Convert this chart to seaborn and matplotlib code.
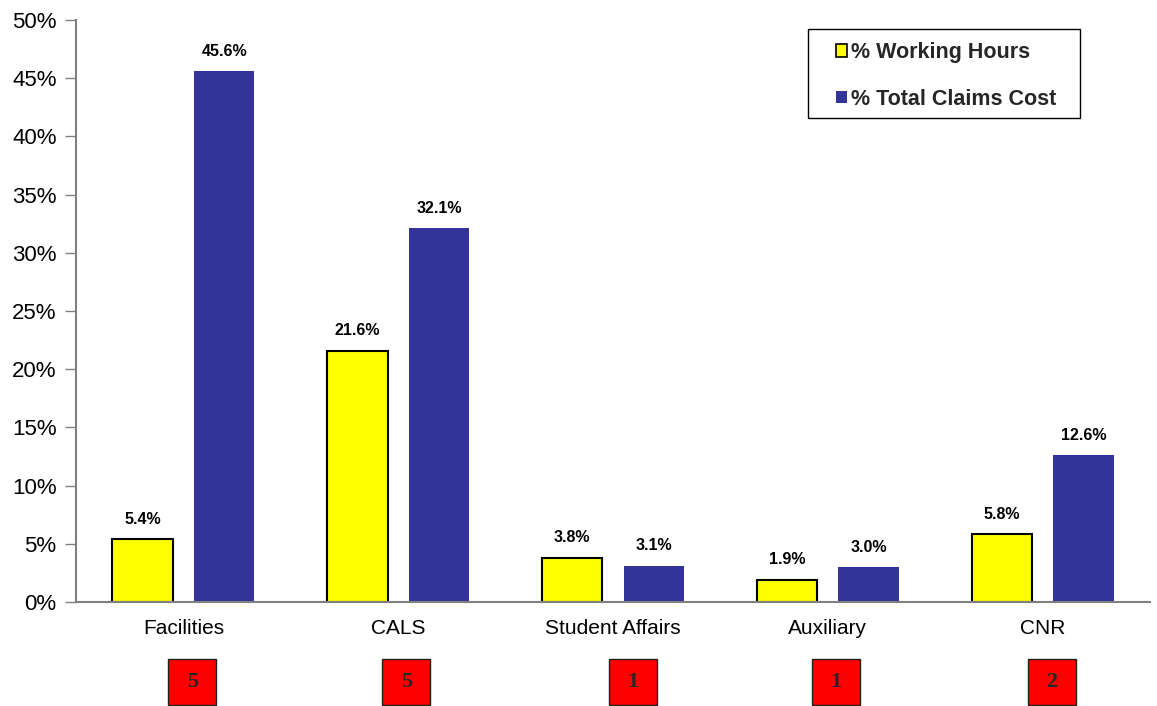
import matplotlib
matplotlib.use("Agg")
import matplotlib.pyplot as plt
import seaborn as sns
import pandas as pd
from matplotlib.transforms import blended_transform_factory
from matplotlib.patches import Rectangle

categories = ["Facilities", "CALS", "Student Affairs", "Auxiliary", "CNR"]
working_hours = [5.4, 21.6, 3.8, 1.9, 5.8]
claims_cost = [45.6, 32.1, 3.1, 3.0, 12.6]
series_names = ["% Working Hours", "% Total Claims Cost"]
box_numbers = ["5", "5", "1", "1", "2"]
y_ticks = [0, 5, 10, 15, 20, 25, 30, 35, 40, 45, 50]

df = pd.DataFrame({
    "Category": categories * 2,
    "Series": [series_names[0]] * len(categories) + [series_names[1]] * len(categories),
    "Value": working_hours + claims_cost,
})

sns.set_theme(style="white")
plt.rcParams["font.family"] = ["Liberation Sans", "DejaVu Sans"]

fig = plt.figure(figsize=(11.57, 7.06), dpi=100)
ax = fig.add_axes([0.0657, 0.1473, 0.9283, 0.8244])

palette = {series_names[0]: "#FFFF00", series_names[1]: "#333399"}
sns.barplot(data=df, x="Category", y="Value", hue="Series", order=categories,
            hue_order=series_names, palette=palette, width=0.76, gap=0.26,
            saturation=1, ax=ax, legend=False)

for i, container in enumerate(ax.containers):
    for p in container:
        if i == 0:
            p.set_edgecolor("black")
            p.set_linewidth(1.5)
        else:
            p.set_edgecolor("none")
    ax.bar_label(container, labels=[f"{v:.1f}%" for v in container.datavalues],
                 padding=9, fontsize=11.5, fontweight="bold", color="black")

ax.set_ylim(0, 50)
ax.set_xlim(-0.5, len(categories) - 0.5)
ax.set_yticks(y_ticks)
ax.set_yticklabels([f"{t}%" for t in y_ticks], fontsize=16, color="black")
ax.tick_params(axis="y", which="both", left=True, length=8, width=1, color="#808080", pad=6)
ax.tick_params(axis="x", bottom=False, labelsize=15, pad=6, labelcolor="black")
ax.set_xlabel("")
ax.set_ylabel("")
for side in ["top", "right"]:
    ax.spines[side].set_visible(False)
ax.spines["left"].set_color("#808080")
ax.spines["left"].set_linewidth(1.5)
ax.spines["bottom"].set_color("#808080")
ax.spines["bottom"].set_linewidth(1.5)
ax.grid(False)

# Legend frame (drawn separately) and legend entries
frame = Rectangle((0.6816, 0.8316), 0.2532, 0.1529, transform=ax.transAxes,
                  facecolor="white", edgecolor="black", linewidth=1.0, zorder=4,
                  clip_on=False)
ax.add_patch(frame)
handles = [Rectangle((0, 0), 1, 1, facecolor="#FFFF00", edgecolor="black", linewidth=1.2),
           Rectangle((0, 0), 1, 1, facecolor="#333399", edgecolor="none")]
leg = ax.legend(handles, series_names, loc="upper left", bbox_to_anchor=(0.7076, 0.9622),
                frameon=False,
                prop={"weight": "bold", "size": 15.5, "family": ["Liberation Sans"]},
                handlelength=0.52, handleheight=0.52, handletextpad=0.19,
                labelspacing=1.19, borderpad=0, borderaxespad=0)
leg.set_zorder(5)

# Red number boxes below categories
trans = blended_transform_factory(ax.transData, fig.transFigure)
box_offsets = [0.042, 0.037, 0.093, 0.037, 0.042]
box_w = 0.2235
box_bottom, box_h = 0.0014, 0.0652
for i, num in enumerate(box_numbers):
    xc = i + box_offsets[i]
    rect = Rectangle((xc - box_w / 2, box_bottom), box_w, box_h, transform=trans,
                     facecolor="#FF0000", edgecolor="#202020", linewidth=1.0,
                     clip_on=False)
    ax.add_patch(rect)
    ax.text(xc, box_bottom + box_h / 2, num, transform=trans, ha="center", va="center",
            fontsize=16, fontweight="bold", family=["Liberation Serif"], clip_on=False)

fig.savefig("out.png", dpi=100)
